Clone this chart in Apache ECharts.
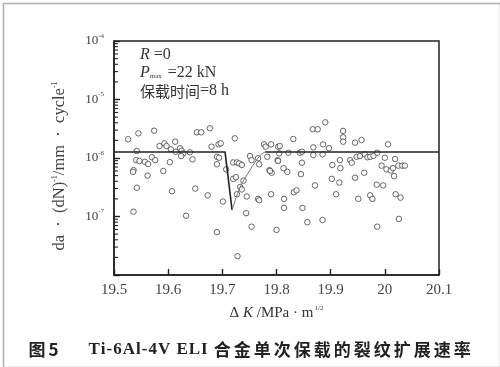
<!DOCTYPE html>
<html><head><meta charset="utf-8">
<script src="https://cdn.jsdelivr.net/npm/echarts@6/dist/echarts.min.js"></script>
<style>html,body{margin:0;padding:0;background:#fff}#c{width:500px;height:367px}</style>
</head><body><div id="c"></div>
<script>
// ---- data ----
const xTicks = [19.5, 19.6, 19.7, 19.8, 19.9, 20.0, 20.1];
const yMajor = [1e-8, 1e-7, 1e-6, 1e-5, 1e-4];
const scatterX = [19.526,19.545,19.574,19.653,19.661,19.677,19.723,19.777,19.780,19.790,
 19.542,19.541,19.547,19.557,19.563,19.570,19.576,19.584,19.593,19.597,
 19.613,19.605,19.614,19.622,19.625,19.628,19.640,19.645,19.603,19.624,
 19.536,19.535,19.591,19.562,19.542,19.607,19.650,19.673,19.536,19.633,
 19.680,19.693,19.697,19.690,19.694,19.690,19.707,19.701,19.690,19.720,
 19.727,19.731,19.736,19.720,19.725,19.739,19.733,19.736,19.727,19.745,
 19.744,19.754,19.728,19.751,19.754,19.766,19.768,19.766,19.768,19.787,
 19.791,19.783,19.790,19.800,19.802,19.803,19.806,19.803,19.805,19.822,
 19.843,19.847,19.831,19.867,19.876,19.890,19.868,19.868,19.886,19.897,
 19.885,19.923,19.923,19.923,19.945,19.957,20.006,19.847,19.813,19.820,
 19.788,19.845,19.903,19.917,19.918,19.936,19.939,19.948,19.954,19.963,
 19.968,19.973,19.979,19.986,20.000,20.019,19.994,20.003,20.011,20.015,
 20.025,20.032,20.037,20.017,19.902,19.916,19.945,19.962,19.871,19.832,
 19.837,19.814,19.910,19.814,19.848,19.951,19.973,19.977,19.985,19.997,
 20.020,20.029,19.857,19.885,19.986,20.026];
const scatterY = [2.09e-6,2.64e-6,2.93e-6,2.75e-6,2.75e-6,3.22e-6,2.17e-6,1.71e-6,1.56e-6,1.71e-6,
 1.32e-6,9.2e-7,8.9e-7,8.6e-7,7.9e-7,1.03e-6,9.2e-7,1.60e-6,1.78e-6,1.60e-6,
 1.90e-6,1.41e-6,1.28e-6,1.47e-6,1.33e-6,1.20e-6,1.25e-6,9.5e-7,8.5e-7,1.08e-6,
 6.2e-7,5.8e-7,6.0e-7,5.0e-7,3.1e-7,2.7e-7,3.0e-7,2.3e-7,1.21e-7,1.03e-7,
 1.56e-6,1.71e-6,1.78e-6,1.05e-6,1.01e-6,7.8e-7,6.4e-7,1.8e-7,5.4e-8,8.4e-7,
 8.4e-7,8.1e-7,7.6e-7,4.4e-7,4.7e-7,4.1e-7,3.2e-7,2.9e-7,2.4e-7,2.2e-7,
 1.14e-7,6.7e-8,2.1e-8,1.08e-6,9.2e-7,9.9e-7,7.8e-7,2.0e-7,1.9e-7,6.2e-7,
 5.6e-7,1.05e-6,2.4e-7,5.9e-8,9.2e-7,1.56e-6,1.60e-6,8.9e-7,1.20e-6,1.23e-6,
 1.23e-6,1.28e-6,2.11e-6,3.10e-6,3.10e-6,4.07e-6,1.52e-6,1.12e-6,1.71e-6,1.47e-6,
 1.16e-6,2.90e-6,2.26e-6,1.90e-6,1.83e-6,2.03e-6,1.71e-6,8.3e-7,6.7e-7,5.8e-7,
 6.0e-7,5.3e-7,7.6e-7,9.2e-7,6.7e-7,9.2e-7,8.3e-7,1.05e-6,1.08e-6,1.16e-6,
 1.03e-6,1.05e-6,1.09e-6,1.23e-6,1.01e-6,9.6e-7,7.4e-7,6.4e-7,6.1e-7,6.7e-7,
 7.4e-7,7.4e-7,7.4e-7,4.9e-7,4.4e-7,3.8e-7,4.6e-7,5.6e-7,3.4e-7,2.6e-7,
 2.8e-7,2.0e-7,2.4e-7,1.4e-7,1.4e-7,2.0e-7,2.3e-7,2.0e-7,3.5e-7,3.4e-7,
 2.4e-7,2.1e-7,8.0e-8,8.7e-8,6.7e-8,9.1e-8];
// fitted curve: plateau, sudden drop, recovery, plateau
const dropX = [19.5, 19.705, 19.718];
const dropY = [1.27e-6, 1.27e-6, 1.29e-7];
const riseX = [19.718, 19.733, 19.751, 19.770, 19.779];
const riseY = [1.29e-7, 3.2e-7, 6.2e-7, 1.12e-6, 1.27e-6];
const plateauX = [19.779, 20.1];
const plateauY = [1.27e-6, 1.27e-6];
const minorMantissas = [2, 3, 4, 5, 6, 7, 8, 9];
const captionCJK1 = '图5';
const captionLatin = 'Ti-6Al-4V ELI';
const captionCJK2 = '合金单次保载的裂纹扩展速率';

// ---- chart ----
const zip = (a, b) => a.map((v, i) => [v, b[i]]);
const serif = '"Liberation Serif","DejaVu Serif",serif';
const cjk = '"Noto Sans CJK SC",sans-serif';
const xMin = xTicks[0], xMax = xTicks[xTicks.length - 1];
const yMin = yMajor[0], yMax = yMajor[yMajor.length - 1];
const minorVals = [];
for (let i = 0; i < yMajor.length - 1; i++) minorMantissas.forEach(m => minorVals.push(m * yMajor[i]));
const chart = echarts.init(document.getElementById('c'));
const spaced = (s, tag) => s.split('').map(ch => '{' + tag + '|' + ch + '}').join('');

chart.setOption({
  backgroundColor: '#fff',
  animation: false,
  grid: { left: 114, right: 61, top: 41, bottom: 92 },
  xAxis: {
    type: 'value', min: xMin, max: xMax, interval: 0.1,
    splitLine: { show: false },
    axisLine: { show: true, lineStyle: { color: '#222', width: 1.5 } },
    axisTick: { show: true, inside: true, length: 6, lineStyle: { color: '#222', width: 1.4 } },
    axisLabel: { show: true, margin: 8, color: '#444', fontFamily: serif, fontSize: 15,
      formatter: v => { const r = Math.round(v * 10) / 10; return xTicks.includes(r) ? (r === 20 ? '20' : r.toFixed(1)) : ''; } },
    name: '{t|Δ }{i|K}{t| /MPa · m}{s|1/2}',
    nameLocation: 'middle', nameGap: 30,
    nameTextStyle: { rich: {
      t: { fontFamily: serif, fontSize: 15, color: '#333' },
      i: { fontFamily: serif, fontSize: 15, color: '#333', fontStyle: 'italic' },
      s: { fontFamily: serif, fontSize: 7, color: '#333', padding: [0, 0, 10, 1] } } }
  },
  yAxis: {
    type: 'log', logBase: 10, min: yMin, max: yMax,
    splitLine: { show: false },
    axisLine: { show: true, lineStyle: { color: '#222', width: 1.5 } },
    axisTick: { show: true, inside: true, length: 6, lineStyle: { color: '#222', width: 1.4 } },
    axisLabel: { show: true, margin: 10, color: '#444',
      formatter: v => { const e = Math.round(Math.log10(v)); return e === -8 ? '' : '{b|10}{s|' + e + '}'; },
      rich: { b: { fontFamily: serif, fontSize: 13, color: '#444' },
              s: { fontFamily: serif, fontSize: 7, color: '#444', padding: [0, 0, 10, 0] } } }
  },
  series: [
    { type: 'scatter', data: zip(scatterX, scatterY), symbol: 'circle', symbolSize: 5.5,
      itemStyle: { color: '#fff', borderColor: '#444', borderWidth: 1 }, z: 3 },
    { type: 'line', data: zip(dropX, dropY), showSymbol: false, lineStyle: { color: '#222', width: 1.6 }, z: 4 },
    { type: 'line', data: zip(riseX, riseY), showSymbol: false, smooth: 0.3, lineStyle: { color: '#777', width: 1 }, z: 4 },
    { type: 'line', data: zip(plateauX, plateauY), showSymbol: false, lineStyle: { color: '#222', width: 1.6 }, z: 4 }
  ]
});

// frame and minor log ticks positioned through the chart's own axis scales
const px = (x, y) => chart.convertToPixel({ xAxisIndex: 0, yAxisIndex: 0 }, [x, y]);
const tl = px(xMin, yMax), br = px(xMax, yMin);
const extra = [
  { type: 'rect', silent: true, z: 50, shape: { x: tl[0], y: tl[1], width: br[0] - tl[0], height: br[1] - tl[1] },
    style: { fill: 'none', stroke: '#222', lineWidth: 1.5 } }
];
minorVals.forEach(v => { const p = px(xMin, v);
  extra.push({ type: 'line', silent: true, z: 50, shape: { x1: p[0], y1: p[1], x2: p[0] + 4, y2: p[1] }, style: { stroke: '#222', lineWidth: 1.1 } }); });

chart.setOption({
  graphic: [
    { type: 'rect', left: 1, top: 1, shape: { width: 497, height: 364 }, style: { fill: 'none', stroke: '#b0b0b0', lineWidth: 1.5 }, silent: true },
    { type: 'text', x: 60, y: 166, rotation: Math.PI / 2, style: {
      text: '{t|da  ·  (dN)}{s|-1}{t|/mm  ·  cycle}{s|-1}', align: 'center', verticalAlign: 'middle', rich: {
        t: { fontFamily: serif, fontSize: 16.5, fill: '#444' },
        s: { fontFamily: serif, fontSize: 8, fill: '#444', padding: [0, 0, 10, 0] } } } },
    { type: 'text', x: 140, y: 55, style: { text: '{i|R}{t| =0}', verticalAlign: 'middle', rich: {
      i: { fontFamily: serif, fontSize: 16, fontStyle: 'italic', fill: '#333' }, t: { fontFamily: serif, fontSize: 16, fill: '#333' } } } },
    { type: 'text', x: 140, y: 73, style: { text: '{i|P}{s|max}{t| =22 kN}', verticalAlign: 'middle', rich: {
      i: { fontFamily: serif, fontSize: 16, fontStyle: 'italic', fill: '#333' },
      s: { fontFamily: serif, fontSize: 7, fill: '#333', padding: [7, 2, 0, 0] },
      t: { fontFamily: serif, fontSize: 16, fill: '#333' } } } },
    { type: 'text', x: 140, y: 91, style: { text: '{c|保载时间}{t|=8 h}', verticalAlign: 'middle', rich: {
      c: { fontFamily: cjk, fontSize: 15, fill: '#333' },
      t: { fontFamily: serif, fontSize: 16, fill: '#333' } } } },
    { type: 'text', x: 27, y: 350, style: { verticalAlign: 'middle',
      text: spaced(captionCJK1, 'c') + '{sp1| }' + spaced(captionLatin, 'e') + '{sp2| }' + spaced(captionCJK2, 'c'),
      rich: {
        c: { fontFamily: cjk, fontSize: 17, fontWeight: 'bold', fill: '#222', padding: [0, 1.5, 0, 1.5] },
        e: { fontFamily: serif, fontSize: 17, fontWeight: 'bold', fill: '#222', padding: [0, 0.5, 0, 0.5] },
        sp1: { fontFamily: serif, fontSize: 17, width: 28 },
        sp2: { fontFamily: serif, fontSize: 17, width: 4 } } } }
  ].concat(extra)
});
</script></body></html>
